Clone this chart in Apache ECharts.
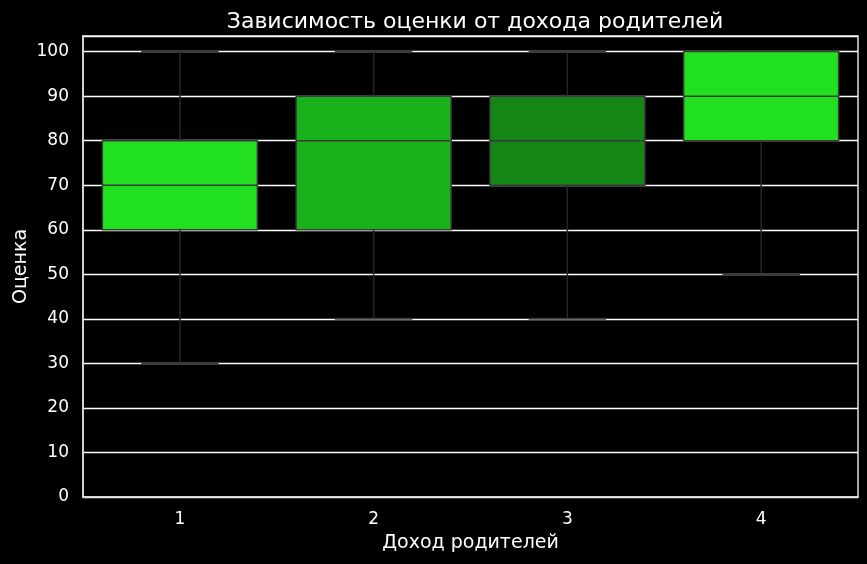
<!DOCTYPE html>
<html><head><meta charset="utf-8">
<script src="https://cdn.jsdelivr.net/npm/echarts@6/dist/echarts.min.js"></script>
<style>html,body{margin:0;padding:0;background:#000;}#c{width:867px;height:564px;}</style>
</head><body><div id="c"></div>
<script>
const categories = ['1', '2', '3', '4'];
const mins    = [30, 40, 40, 50];
const q1s     = [60, 60, 70, 80];
const medians = [70, 80, 80, 90];
const q3s     = [80, 90, 90, 100];
const maxs    = [100, 100, 100, 100];
const boxColors = ['#20e020', '#1ab21a', '#158515', '#20e020'];

const data = categories.map((c, i) => [i, mins[i], q1s[i], medians[i], q3s[i], maxs[i]]);
const FONT = 'DejaVu Sans';

const chart = echarts.init(document.getElementById('c'), null, {renderer: 'canvas'});
chart.setOption({
  backgroundColor: '#000',
  animation: false,
  title: {
    text: 'Зависимость оценки от дохода родителей',
    left: 470, top: 6, textAlign: 'center',
    textStyle: {color: '#fff', fontFamily: FONT, fontSize: 22, fontWeight: 'normal'}
  },
  grid: {left: 83, right: 9, top: 36, bottom: 67, outerBoundsMode: 'none', containLabel: false,
    show: true, borderColor: '#e0e0e0', borderWidth: 1.5, backgroundColor: 'transparent'},
  xAxis: {
    type: 'category', data: categories, boundaryGap: true,
    name: 'Доход родителей', nameLocation: 'middle', nameGap: 37, nameMoveOverlap: false,
    nameTextStyle: {color: '#fff', fontFamily: FONT, fontSize: 19},
    axisLine: {show: true, lineStyle: {color: '#e0e0e0', width: 1.5}},
    axisTick: {show: false},
    axisLabel: {color: '#fff', fontFamily: FONT, fontSize: 17, margin: 14},
    splitLine: {show: false}
  },
  yAxis: {
    type: 'value', min: 0, max: 103.5, interval: 10,
    name: 'Оценка', nameLocation: 'middle', nameGap: 52, nameRotate: 90, nameMoveOverlap: false,
    nameTextStyle: {color: '#fff', fontFamily: FONT, fontSize: 19},
    axisLine: {show: true, lineStyle: {color: '#e0e0e0', width: 1.5}},
    axisTick: {show: false},
    axisLabel: {color: '#fff', fontFamily: FONT, fontSize: 17, margin: 14, showMaxLabel: false},
    splitLine: {show: true, lineStyle: {color: '#ffffff', width: 1.3}}
  },
  series: [{
    type: 'custom',
    encode: {x: 0, y: [1, 2, 3, 4, 5]},
    data: data,
    renderItem: function (params, api) {
      const i = api.value(0);
      const pMin = api.coord([i, api.value(1)]);
      const pQ1 = api.coord([i, api.value(2)]);
      const pMed = api.coord([i, api.value(3)]);
      const pQ3 = api.coord([i, api.value(4)]);
      const pMax = api.coord([i, api.value(5)]);
      const bw = api.size([1, 0])[0] * 0.8;
      const cx = pMed[0];
      const stroke = '#3a3a3a';
      return {
        type: 'group',
        children: [
          {type: 'line', shape: {x1: cx, y1: pQ1[1], x2: cx, y2: pMin[1]}, style: {stroke: '#262626', lineWidth: 1.5}},
          {type: 'line', shape: {x1: cx, y1: pQ3[1], x2: cx, y2: pMax[1]}, style: {stroke: '#262626', lineWidth: 1.5}},
          {type: 'line', shape: {x1: cx - bw / 4, y1: pMin[1], x2: cx + bw / 4, y2: pMin[1]}, style: {stroke: stroke, lineWidth: 2}},
          {type: 'line', shape: {x1: cx - bw / 4, y1: pMax[1], x2: cx + bw / 4, y2: pMax[1]}, style: {stroke: stroke, lineWidth: 2}},
          {type: 'rect', shape: {x: cx - bw / 2, y: pQ3[1], width: bw, height: pQ1[1] - pQ3[1]},
            style: {fill: boxColors[i], stroke: stroke, lineWidth: 1.5}},
          {type: 'line', shape: {x1: cx - bw / 2, y1: pMed[1], x2: cx + bw / 2, y2: pMed[1]}, style: {stroke: stroke, lineWidth: 1.5}}
        ]
      };
    }
  }]
});
</script></body></html>
